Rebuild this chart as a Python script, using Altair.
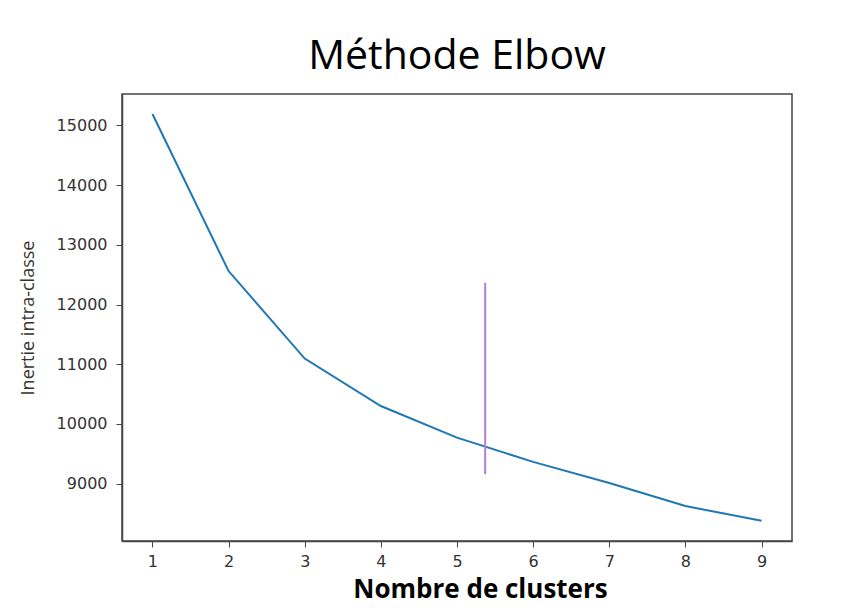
import altair as alt
import pandas as pd

clusters = [1, 2, 3, 4, 5, 6, 7, 8, 9]
inertie = [15190, 12560, 11095, 10300, 9770, 9365, 9010, 8625, 8378]

elbow_x = [5.37]
elbow_y_low = [9160]
elbow_y_high = [12365]

df = pd.DataFrame({"k": clusters, "inertie": inertie})
df_rule = pd.DataFrame({"x": elbow_x, "y1": elbow_y_low, "y2": elbow_y_high})

x_scale = alt.Scale(domain=[0.6, 9.4], nice=False, zero=False)
y_scale = alt.Scale(domain=[8040, 15525], nice=False, zero=False)

line = alt.Chart(df).mark_line(color="#1f77b4", strokeWidth=2).encode(
    x=alt.X("k:Q", scale=x_scale,
            axis=alt.Axis(values=clusters, format="d", title="Nombre de clusters",
                          titleFont="Open Sans", titleFontSize=26, titleFontWeight="bold",
                          titleColor="#000000", titleX=358, titleY=56,
                          titleBaseline="alphabetic", titleAlign="center",
                          labelFont="DejaVu Sans", labelFontSize=16, labelColor="#333333",
                          labelPadding=6, tickSize=6, tickColor="#444444",
                          domainColor="#444444", domainWidth=1.5, grid=False)),
    y=alt.Y("inertie:Q", scale=y_scale,
            axis=alt.Axis(values=[9000, 10000, 11000, 12000, 13000, 14000, 15000],
                          format="d", title="Inertie intra-classe",
                          titleFont="Open Sans", titleFontSize=18, titleFontWeight="normal",
                          titleColor="#333333", titlePadding=19,
                          labelFont="DejaVu Sans", labelFontSize=16, labelColor="#333333",
                          labelPadding=9, tickSize=6, tickColor="#444444",
                          domainColor="#444444", domainWidth=1.5, grid=False)),
)

rule = alt.Chart(df_rule).mark_rule(color="#b07fd6", strokeWidth=2).encode(
    x=alt.X("x:Q", scale=x_scale),
    y=alt.Y("y1:Q", scale=y_scale),
    y2="y2:Q",
)

chart = alt.layer(line, rule).properties(
    width=670,
    height=447,
    title=alt.TitleParams("Méthode Elbow", font="Open Sans", fontSize=41,
                          fontWeight="normal", color="#000000", anchor="middle",
                          baseline="alphabetic", offset=24, dy=40),
    autosize=alt.AutoSizeParams(type="none"),
    padding={"left": 114, "top": 86, "right": 65, "bottom": 66},
    background="white",
).configure_view(
    stroke="#444444", strokeWidth=1.5
)

chart.save("out.html", embed_options={"renderer": "svg", "actions": False})
